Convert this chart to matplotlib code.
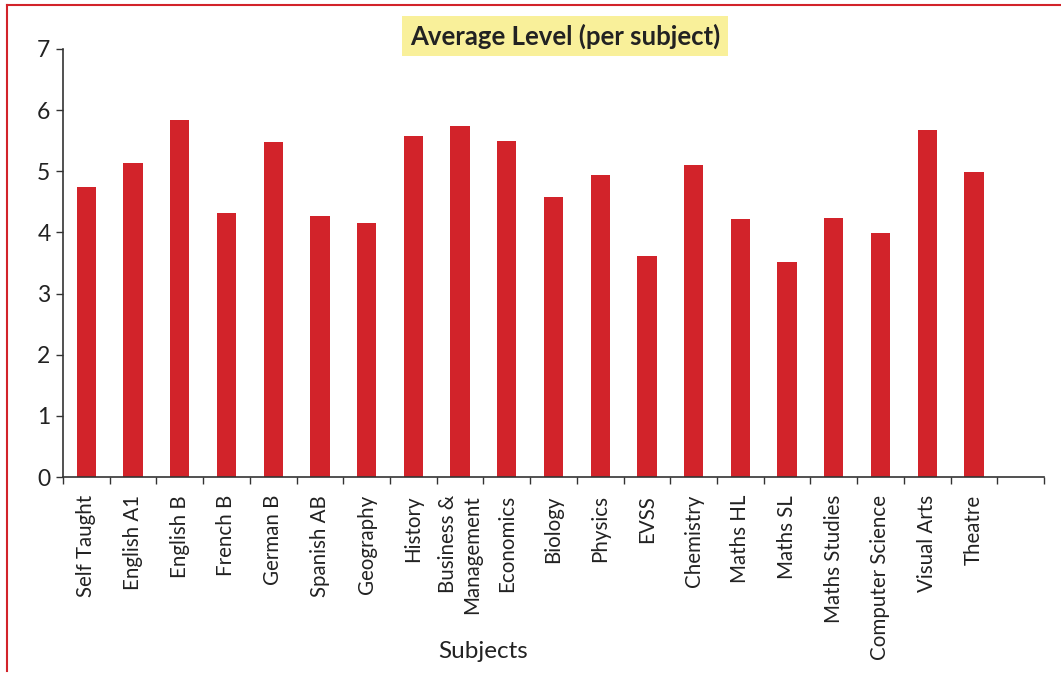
import numpy as np
import matplotlib.pyplot as plt
from matplotlib.lines import Line2D

subjects = ["Self Taught", "English A1", "English B", "French B", "German B",
            "Spanish AB", "Geography", "History", "Business &\nManagement",
            "Economics", "Biology", "Physics", "EVSS", "Chemistry", "Maths HL",
            "Maths SL", "Maths Studies", "Computer Science", "Visual Arts",
            "Theatre", ""]
levels = [4.74, 5.14, 5.84, 4.32, 5.48, 4.27, 4.15, 5.58, 5.74, 5.50,
          4.58, 4.94, 3.61, 5.10, 4.22, 3.52, 4.24, 3.99, 5.68, 4.99, np.nan]

W, H = 1061, 674
fig = plt.figure(figsize=(W / 100, H / 100), dpi=100)
plt.rcParams['font.family'] = ['Lato', 'DejaVu Sans']

ax = fig.add_axes([63 / W, 1 - 477 / H, (1044 - 63) / W, (477 - 49) / H])
x = np.arange(len(subjects))
ax.bar(x, levels, width=0.41, color='#D2232A')

ax.set_xlim(-0.5, len(subjects) - 0.5)
ax.set_ylim(0, 7)
ax.set_yticks(range(8))
ax.set_xticks(x)
ax.set_xticklabels(subjects, rotation=90, va='top', ha='center')
for lab in ax.get_xticklabels():
    lab.set_multialignment('right')
ax.set_xticks(np.arange(-0.5, len(subjects)), minor=True)
ax.tick_params(axis='x', which='major', length=0, pad=13, labelsize=14.8, colors='#222222')
ax.tick_params(axis='x', which='minor', length=5, width=1, color='#333333')
ax.tick_params(axis='y', length=5, width=1, labelsize=16.5, colors='#333333', labelcolor='#222222', pad=4)

for s in ['top', 'right']:
    ax.spines[s].set_visible(False)
for s in ['left', 'bottom']:
    ax.spines[s].set_color('#333333')
    ax.spines[s].set_linewidth(1.2)

fig.text(483 / W, 1 - 652 / H, "Subjects", ha='center', va='center', fontsize=17.5, color='#222222')
fig.text(565 / W, 1 - 36 / H, "Average Level (per subject)", ha='center', va='center',
         fontsize=18.5, fontweight='bold', color='#222222',
         bbox=dict(boxstyle='square,pad=0.3', facecolor='#F9F09A', edgecolor='none'))

# red frame (left and top edges visible)
fig.add_artist(Line2D([7 / W, 7 / W], [1 - 5 / H, 1 - 671 / H], color='#D2232A', lw=1.5))
fig.add_artist(Line2D([7 / W, 1], [1 - 5 / H, 1 - 5 / H], color='#D2232A', lw=1.5))

fig.savefig('out.png', dpi=100)
